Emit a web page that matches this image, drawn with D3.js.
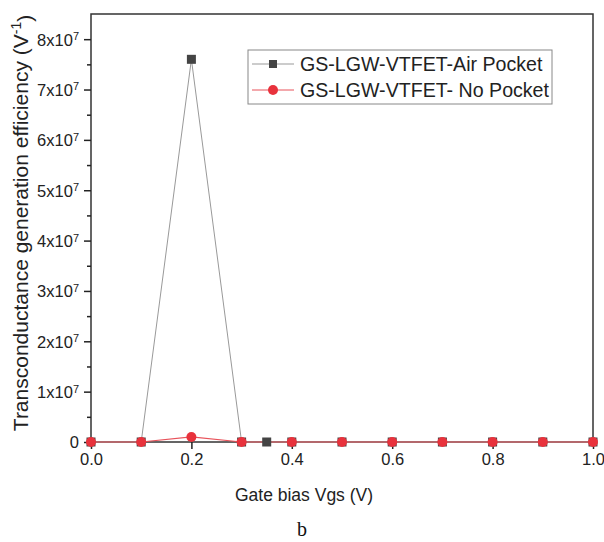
<!DOCTYPE html>
<html>
<head>
<meta charset="utf-8">
<script src="https://cdn.jsdelivr.net/npm/d3@7"></script>
<style>
  body { margin: 0; background: #fff; }
  text { font-family: Arial, "Liberation Sans", sans-serif; }
</style>
</head>
<body>
<div id="chart"></div>
<script>
// Data
const airX = [0, 0.1, 0.2, 0.3, 0.35, 0.4, 0.5, 0.6, 0.7, 0.8, 0.9, 1.0];
const airY = [0, 0, 7.6e7, 0, 0, 0, 0, 0, 0, 0, 0, 0];
const noX = [0, 0.1, 0.2, 0.3, 0.4, 0.5, 0.6, 0.7, 0.8, 0.9, 1.0];
const noY = [0, 0, 1.0e6, 0, 0, 0, 0, 0, 0, 0, 0];
const seriesNames = ["GS-LGW-VTFET-Air Pocket", "GS-LGW-VTFET- No Pocket"];
const xTicks = [0, 0.2, 0.4, 0.6, 0.8, 1.0];
const yTicks = [0, 1e7, 2e7, 3e7, 4e7, 5e7, 6e7, 7e7, 8e7];

const width = 604, height = 542;
const margin = { top: 14, right: 11, bottom: 100, left: 91 };
const plotW = width - margin.left - margin.right;
const plotH = height - margin.top - margin.bottom;

const svg = d3.select("#chart")
    .append("svg")
    .attr("width", width)
    .attr("height", height);

const x = d3.scaleLinear().domain([0, 1.0]).range([margin.left, margin.left + plotW]);
const y = d3.scaleLinear().domain([0, 8.5e7]).range([margin.top + plotH, margin.top]);

// Frame
svg.append("rect")
    .attr("x", margin.left)
    .attr("y", margin.top)
    .attr("width", plotW)
    .attr("height", plotH)
    .attr("fill", "none")
    .attr("stroke", "#333")
    .attr("stroke-width", 1.5);

// x axis: minor then major ticks
const xAxisG = svg.append("g").attr("transform", `translate(0, ${margin.top + plotH})`);
xAxisG.call(d3.axisBottom(x).tickValues([0.1, 0.3, 0.5, 0.7, 0.9]).tickSize(4).tickFormat(""));
xAxisG.append("g").call(d3.axisBottom(x).tickValues(xTicks).tickSize(7).tickPadding(4)
    .tickFormat(d3.format(".1f")));
xAxisG.selectAll(".domain").remove();
xAxisG.selectAll("line").attr("stroke", "#222").attr("stroke-width", 1.5);
xAxisG.selectAll("text").style("font-size", "16.5px").attr("fill", "#222");

// y axis: minor then major ticks
const yAxisG = svg.append("g").attr("transform", `translate(${margin.left}, 0)`);
yAxisG.call(d3.axisLeft(y).tickValues(d3.range(0.5e7, 8.5e7, 1e7)).tickSize(4).tickFormat(""));
const yMajor = yAxisG.append("g").call(d3.axisLeft(y).tickValues(yTicks).tickSize(7).tickPadding(5)
    .tickFormat(""));
yAxisG.selectAll(".domain").remove();
yAxisG.selectAll("line").attr("stroke", "#222").attr("stroke-width", 1.5);

// y tick labels with superscripts
yMajor.selectAll(".tick").each(function(d) {
    const t = d3.select(this).select("text")
        .style("font-size", "16.5px")
        .attr("fill", "#222")
        .attr("dy", "0.36em");
    if (d === 0) {
        t.text("0");
    } else {
        t.text(null);
        t.append("tspan").text(`${d / 1e7}x10`);
        t.append("tspan").text("7").attr("dy", "-0.5em").style("font-size", "11px");
    }
});

// Lines
const line = d3.line().x(d => x(d[0])).y(d => y(d[1]));
const airPts = airX.map((v, i) => [v, airY[i]]);
const noPts = noX.map((v, i) => [v, noY[i]]);

svg.append("path")
    .datum(airPts)
    .attr("d", line)
    .attr("fill", "none")
    .attr("stroke", "#999")
    .attr("stroke-width", 1);

svg.append("path")
    .datum(noPts)
    .attr("d", line)
    .attr("fill", "none")
    .attr("stroke", "#e8525a")
    .attr("stroke-width", 1.2);

svg.selectAll(".sq")
    .data(airPts)
    .enter()
    .append("rect")
    .attr("class", "sq")
    .attr("x", d => x(d[0]) - 4.5)
    .attr("y", d => y(d[1]) - 4.5)
    .attr("width", 9)
    .attr("height", 9)
    .attr("fill", "#444");

svg.selectAll(".dot")
    .data(noPts)
    .enter()
    .append("circle")
    .attr("class", "dot")
    .attr("cx", d => x(d[0]))
    .attr("cy", d => y(d[1]))
    .attr("r", 5)
    .attr("fill", "#e8323c");

// Legend
const legend = svg.append("g").attr("transform", "translate(248, 50)");
legend.append("rect")
    .attr("width", 304)
    .attr("height", 54)
    .attr("fill", "#fff")
    .attr("stroke", "#888")
    .attr("stroke-width", 1);

[0, 1].forEach(i => {
    const cy = 14 + i * 26;
    legend.append("line")
        .attr("x1", 4).attr("x2", 46)
        .attr("y1", cy).attr("y2", cy)
        .attr("stroke", i === 0 ? "#999" : "#e8525a")
        .attr("stroke-width", 1);
    if (i === 0) {
        legend.append("rect")
            .attr("x", 21).attr("y", cy - 4)
            .attr("width", 8).attr("height", 8)
            .attr("fill", "#444");
    } else {
        legend.append("circle")
            .attr("cx", 25).attr("cy", cy)
            .attr("r", 5)
            .attr("fill", "#e8323c");
    }
    legend.append("text")
        .attr("x", 52)
        .attr("y", cy)
        .attr("dy", "0.36em")
        .style("font-size", "19.6px")
        .attr("fill", "#222")
        .text(seriesNames[i]);
});

// Axis titles
svg.append("text")
    .attr("x", 304)
    .attr("y", 501)
    .attr("text-anchor", "middle")
    .style("font-size", "17.5px")
    .attr("fill", "#222")
    .text("Gate bias Vgs (V)");

const yTitle = svg.append("text")
    .attr("transform", `translate(28, 223) rotate(-90)`)
    .attr("text-anchor", "middle")
    .style("font-size", "21px")
    .attr("fill", "#222");
yTitle.append("tspan").text("Transconductance generation efficiency (V");
yTitle.append("tspan").text("-1").attr("dy", "-0.5em").style("font-size", "14px");
yTitle.append("tspan").text(")").attr("dy", "0.5em");

svg.append("text")
    .attr("x", 302)
    .attr("y", 536)
    .attr("text-anchor", "middle")
    .style("font-family", "'Liberation Serif', 'Times New Roman', serif")
    .style("font-size", "20px")
    .attr("fill", "#111")
    .text("b");
</script>
</body>
</html>
